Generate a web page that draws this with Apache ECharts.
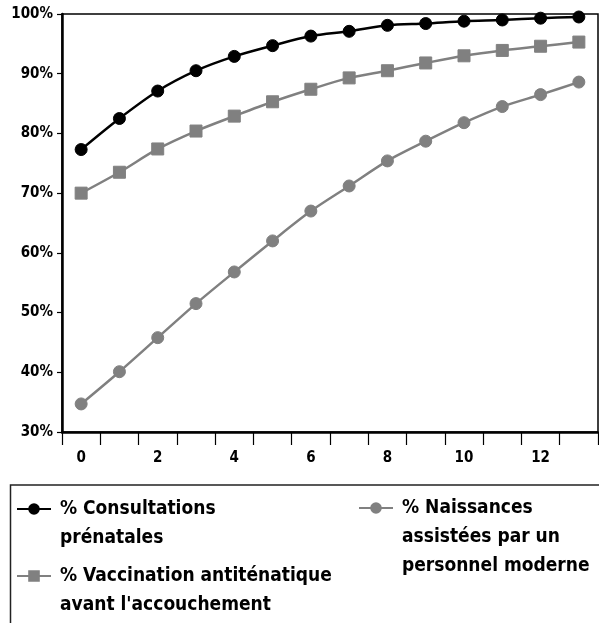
<!DOCTYPE html>
<html>
<head>
<meta charset="utf-8">
<script src="https://cdn.jsdelivr.net/npm/echarts@6/dist/echarts.min.js"></script>
<style>
  html, body { margin: 0; padding: 0; background: #fff; }
  #chart { width: 599px; height: 623px; }
</style>
</head>
<body>
<div id="chart"></div>
<script>
// values
const years = ['0', '1', '2', '3', '4', '5', '6', '7', '8', '9', '10', '11', '12', '13'];
const consultations = [77.3, 82.5, 87.1, 90.5, 92.9, 94.7, 96.3, 97.1, 98.1, 98.4, 98.8, 99.0, 99.3, 99.5];
const vaccination = [70.0, 73.5, 77.4, 80.4, 82.9, 85.3, 87.4, 89.3, 90.5, 91.8, 93.0, 93.9, 94.6, 95.3];
const naissances = [34.7, 40.1, 45.8, 51.5, 56.8, 62.0, 67.0, 71.2, 75.4, 78.7, 81.8, 84.5, 86.5, 88.6];

const names = [
  '% Consultations\nprénatales',
  '% Vaccination antiténatique\navant l\'accouchement',
  '% Naissances\nassistées par un\npersonnel moderne'
];

const FONT = '"DejaVu Sans Condensed", "Liberation Sans Narrow", sans-serif';
const GREY = '#808080';
const LH = 29;

// legend text is centred on the icon, so pad blank lines on top to put the icon on line 1
function legendItem(name, left, iconY) {
  const n = name.split('\n').length;
  const pad = '\n'.repeat(n - 1);
  const total = 2 * n - 1;
  return {
    left: left, top: iconY - total * LH / 2,
    padding: 0,
    orient: 'vertical',
    itemWidth: 34, itemHeight: 12,
    data: [name],
    formatter: function (s) { return pad + s; },
    textStyle: { fontFamily: FONT, fontWeight: 'bold', fontSize: 19, lineHeight: LH, color: '#000', padding: [0, 0, 0, 4] }
  };
}

const chart = echarts.init(document.getElementById('chart'));

const option = {
  backgroundColor: '#fff',
  animation: false,
  grid: {
    left: 62, right: 1, top: 14, bottom: 191,
    show: true, borderColor: '#000', borderWidth: 1.5, backgroundColor: '#fff'
  },
  legend: [
    legendItem(names[0], 16, 509),
    legendItem(names[1], 16, 576),
    legendItem(names[2], 358, 508)
  ],
  graphic: [
    {
      type: 'rect', z: -1,
      shape: { x: 10.5, y: 485, width: 620, height: 200 },
      style: { fill: 'none', stroke: '#222', lineWidth: 1.5 }
    }
  ],
  xAxis: {
    type: 'category',
    data: years,
    boundaryGap: true,
    axisLine: { lineStyle: { color: '#000', width: 2.5 } },
    axisTick: { show: true, interval: 0, length: 13, lineStyle: { color: '#000', width: 1.2 } },
    axisLabel: {
      interval: 1, margin: 19,
      fontFamily: FONT, fontWeight: 'bold', fontSize: 15, color: '#000'
    },
    splitLine: { show: false }
  },
  yAxis: {
    type: 'value',
    min: 30, max: 100, interval: 10,
    axisLine: { show: true, lineStyle: { color: '#000', width: 2.5 } },
    axisTick: { show: true, length: 5, lineStyle: { color: '#000', width: 1.2 } },
    axisLabel: {
      formatter: '{value}%', margin: 9,
      fontFamily: FONT, fontWeight: 'bold', fontSize: 15, color: '#000'
    },
    splitLine: { show: false }
  },
  series: [
    {
      name: names[0],
      type: 'line',
      data: consultations,
      smooth: 0.3,
      symbol: 'circle', symbolSize: 12,
      lineStyle: { color: '#000', width: 2.5 },
      itemStyle: { color: '#000', borderColor: '#000', borderWidth: 1 },
      z: 4
    },
    {
      name: names[1],
      type: 'line',
      data: vaccination,
      smooth: 0.3,
      symbol: 'rect', symbolSize: 12,
      lineStyle: { color: GREY, width: 2.5 },
      itemStyle: { color: GREY, borderColor: GREY, borderWidth: 1 },
      z: 3
    },
    {
      name: names[2],
      type: 'line',
      data: naissances,
      smooth: 0.3,
      symbol: 'circle', symbolSize: 12,
      lineStyle: { color: GREY, width: 2.5 },
      itemStyle: { color: GREY, borderColor: GREY, borderWidth: 1 },
      z: 2
    }
  ]
};

chart.setOption(option);
</script>
</body>
</html>
